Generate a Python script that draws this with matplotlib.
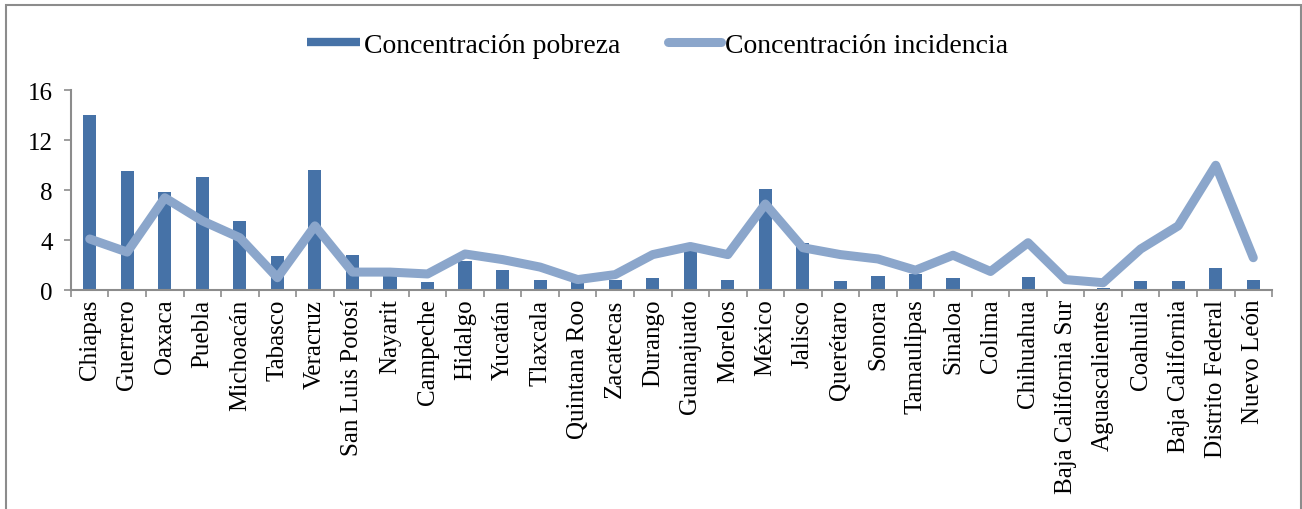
import matplotlib.pyplot as plt
from matplotlib.patches import Rectangle
from matplotlib.lines import Line2D
import numpy as np

plt.rcParams['font.family'] = ['Liberation Serif', 'DejaVu Serif']

estados = ['Chiapas', 'Guerrero', 'Oaxaca', 'Puebla', 'Michoacán', 'Tabasco',
           'Veracruz', 'San Luis Potosí', 'Nayarit', 'Campeche', 'Hidalgo',
           'Yucatán', 'Tlaxcala', 'Quintana Roo', 'Zacatecas', 'Durango',
           'Guanajuato', 'Morelos', 'México', 'Jalisco', 'Querétaro', 'Sonora',
           'Tamaulipas', 'Sinaloa', 'Colima', 'Chihuahua', 'Baja California Sur',
           'Aguascalientes', 'Coahuila', 'Baja California', 'Distrito Federal',
           'Nuevo León']

pobreza = [14.05, 9.55, 7.85, 9.1, 5.55, 2.75, 9.65, 2.85, 1.3, 0.65, 2.3,
           1.6, 0.85, 0.9, 0.85, 1.0, 3.2, 0.85, 8.1, 3.75, 0.7, 1.1,
           1.3, 1.0, 0.1, 1.05, 0.1, 0.2, 0.7, 0.7, 1.75, 0.85]

incidencia = [4.1, 3.05, 7.4, 5.55, 4.2, 1.0, 5.15, 1.45, 1.45, 1.3, 2.9,
              2.45, 1.85, 0.85, 1.25, 2.85, 3.5, 2.85, 6.9, 3.4, 2.85, 2.5,
              1.6, 2.8, 1.5, 3.8, 0.85, 0.6, 3.3, 5.15, 10.0, 2.6]

c_bar = '#4672a7'
c_line = '#8ba6cb'
c_axis = '#8c8c8c'

fig = plt.figure(figsize=(13.02, 5.10), dpi=100)
ax = fig.add_axes([0.0545, 0.429, 0.9225, 0.392])

x = np.arange(len(estados))
ax.bar(x, pobreza, width=0.35, color=c_bar, zorder=2)
ax.plot(x, incidencia, color=c_line, lw=6.5, solid_capstyle='round',
        solid_joinstyle='round', zorder=3)

ax.set_xlim(-0.5, len(estados) - 0.5)
ax.set_ylim(0, 16)
ax.set_yticks([0, 4, 8, 12, 16])
ax.set_xticks(np.arange(len(estados) + 1) - 0.5, minor=True)
ax.set_xticks(x)
ax.set_xticklabels(estados, rotation=90, fontsize=18)
ax.tick_params(axis='x', which='major', length=0, pad=6)
ax.tick_params(axis='x', which='minor', length=5, color=c_axis, width=1.2)
ax.tick_params(axis='y', length=5, color=c_axis, width=1.2, labelsize=18, pad=8)

for s in ['top', 'right']:
    ax.spines[s].set_visible(False)
for s in ['left', 'bottom']:
    ax.spines[s].set_color(c_axis)
    ax.spines[s].set_linewidth(1.5)

handles = [Line2D([], [], color=c_bar, lw=6, solid_capstyle='butt'),
           Line2D([], [], color=c_line, lw=6.5, solid_capstyle='round')]
fig.legend(handles, ['Concentración pobreza', 'Concentración incidencia'],
           loc='center', bbox_to_anchor=(0.505, 0.91), ncol=2, frameon=False,
           fontsize=20, handlelength=1.9, handletextpad=0.15, columnspacing=1.7)

fig.patches.append(Rectangle((6 / 1302, -0.1), 1294.5 / 1302, 1.1 - 6 / 510,
                             transform=fig.transFigure, fill=False,
                             edgecolor='#8c8c8c', lw=1.5))

fig.savefig('out.png', dpi=100)
